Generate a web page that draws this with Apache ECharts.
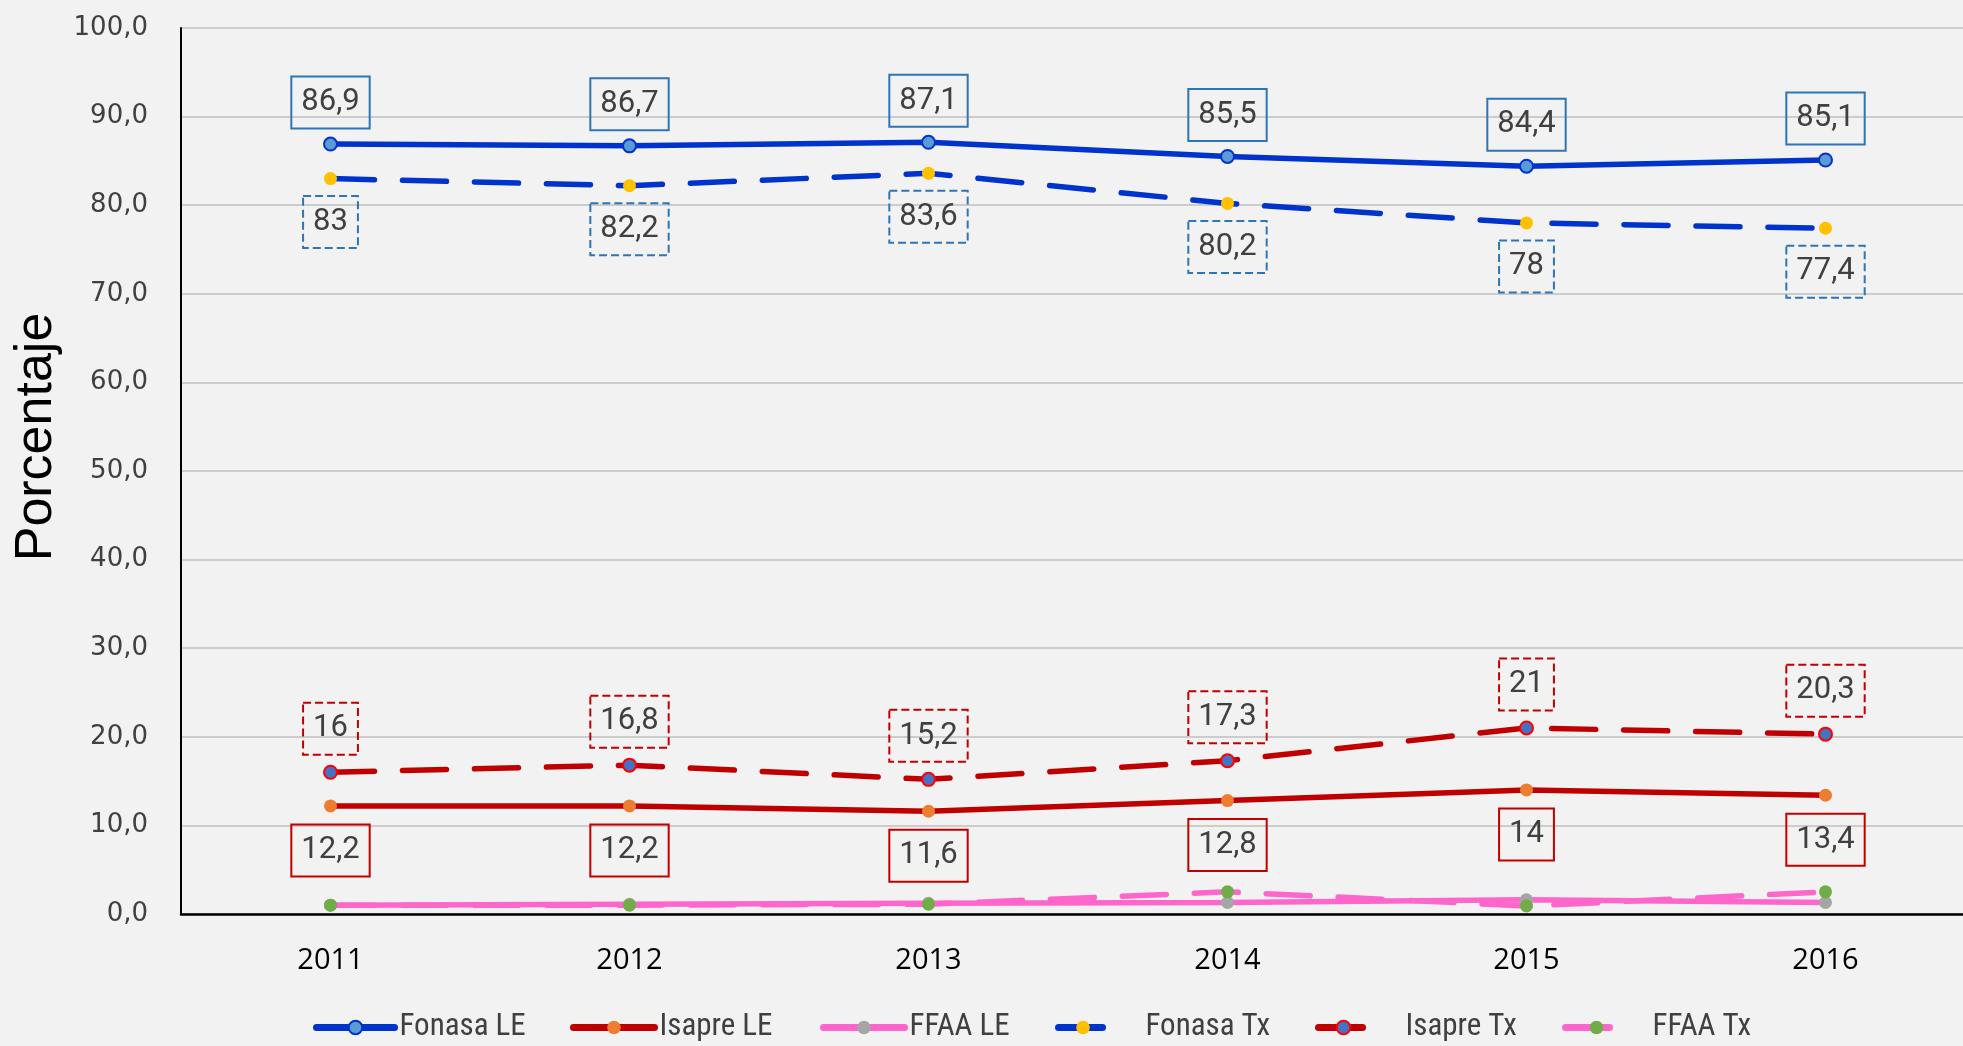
<!DOCTYPE html>
<html>
<head>
<meta charset="utf-8">
<script src="https://cdn.jsdelivr.net/npm/echarts@6/dist/echarts.min.js"></script>
<style>
  html, body { margin: 0; padding: 0; background: #f2f2f2; }
  #chart { width: 1963px; height: 1046px; }
</style>
</head>
<body>
<div id="chart"></div>
<script>
// datos
const years = ['2011', '2012', '2013', '2014', '2015', '2016'];
const fonasaLE = [86.9, 86.7, 87.1, 85.5, 84.4, 85.1];
const isapreLE = [12.2, 12.2, 11.6, 12.8, 14, 13.4];
const ffaaLE = [1.0, 1.1, 1.2, 1.3, 1.6, 1.3];
const fonasaTx = [83, 82.2, 83.6, 80.2, 78, 77.4];
const isapreTx = [16, 16.8, 15.2, 17.3, 21, 20.3];
const ffaaTx = [1.0, 1.0, 1.1, 2.5, 0.9, 2.5];

const blue = '#0033cc';
const red = '#c00000';
const pink = '#ff66cc';
const dash = [44, 28];

const fmt = v => String(v).replace('.', ',');

let boxLabel = (pos, color, type, dist) => ({
    show: true,
    position: pos,
    distance: dist,
    formatter: p => fmt(p.value),
    fontFamily: 'Roboto',
    fontSize: 31,
    lineHeight: 38,
    color: '#404040',
    borderColor: color,
    borderWidth: 2,
    borderType: type,
    padding: [7, 10, 7, 10]
})

let mkSeries = (name, data, color, marker, border, dashed, label) => ({
    name: name,
    type: 'line',
    data: data,
    symbol: 'circle',
    symbolSize: 13,
    lineStyle: { color: color, width: 5.5, type: dashed ? dash : 'solid', cap: 'round' },
    itemStyle: { color: marker, borderColor: border || marker, borderWidth: border ? 2 : 0 },
    label: label || { show: false },
    emphasis: { disabled: true },
    animation: false
})

let legendFont = { fontFamily: 'Liberation Sans Narrow, Roboto Condensed, Roboto', fontSize: 31, color: '#404040' }
let mkLegend = (name, left, width, pad) => ({
    data: [name],
    left: left,
    top: 1012,
    padding: 0,
    itemWidth: width,
    itemHeight: 17,
    selectedMode: false,
    lineStyle: { width: 7, cap: 'round' },
    textStyle: Object.assign({ padding: [0, 0, 0, pad] }, legendFont)
})

const myChart = echarts.init(document.getElementById('chart'));
const option = {
    backgroundColor: '#f2f2f2',
    animation: false,
    grid: { left: 181, right: -12, top: 28, bottom: 132, outerBoundsMode: 'none' },
    legend: [
        mkLegend('Fonasa LE', 313, 78, 0),
        mkLegend('Isapre LE', 570, 81, 0),
        mkLegend('FFAA LE', 820, 81, 0),
        mkLegend('Fonasa Tx', 1055, 49, 33),
        mkLegend('Isapre Tx', 1315, 50, 32),
        mkLegend('FFAA Tx', 1562, 62, 20)
    ],
    graphic: [{
        type: 'text',
        x: 37,
        y: 437,
        rotation: Math.PI / 2,
        style: {
            text: 'Porcentaje',
            x: 0, y: 0,
            textAlign: 'center', textVerticalAlign: 'middle',
            align: 'center', verticalAlign: 'middle',
            font: '52px "Liberation Sans", Arial',
            fill: '#000'
        }
    }],
    xAxis: {
        type: 'category',
        data: years,
        boundaryGap: true,
        axisTick: { show: false },
        axisLine: { lineStyle: { color: '#000', width: 2.5 } },
        axisLabel: { margin: 32, fontFamily: 'Open Sans', fontSize: 29, color: '#000' }
    },
    yAxis: {
        type: 'value',
        min: 0,
        max: 100,
        interval: 10,
        axisLine: { show: true, lineStyle: { color: '#000', width: 2 } },
        axisTick: { show: false },
        axisLabel: { margin: 33, fontFamily: 'DejaVu Sans', fontSize: 26, color: '#404040', formatter: v => v.toFixed(1).replace('.', ',') },
        splitLine: { lineStyle: { color: '#bfbfbf', width: 1.5 } }
    },
    series: [
        mkSeries('Fonasa LE', fonasaLE, blue, '#5b9bd5', blue, false, boxLabel('top', '#2e75b6', 'solid', 8)),
        mkSeries('Isapre LE', isapreLE, red, '#ed7d31', null, false, boxLabel('bottom', red, 'solid', 12)),
        mkSeries('FFAA LE', ffaaLE, pink, '#a5a5a5', null, false),
        mkSeries('Fonasa Tx', fonasaTx, blue, '#ffc000', null, true, boxLabel('bottom', '#2e75b6', 'dashed', 11)),
        mkSeries('Isapre Tx', isapreTx, red, '#4472c4', '#ff0000', true, boxLabel('top', red, 'dashed', 10)),
        mkSeries('FFAA Tx', ffaaTx, pink, '#70ad47', null, true)
    ]
};
myChart.setOption(option);
window.addEventListener('resize', () => { myChart.resize() });
</script>
</body>
</html>
